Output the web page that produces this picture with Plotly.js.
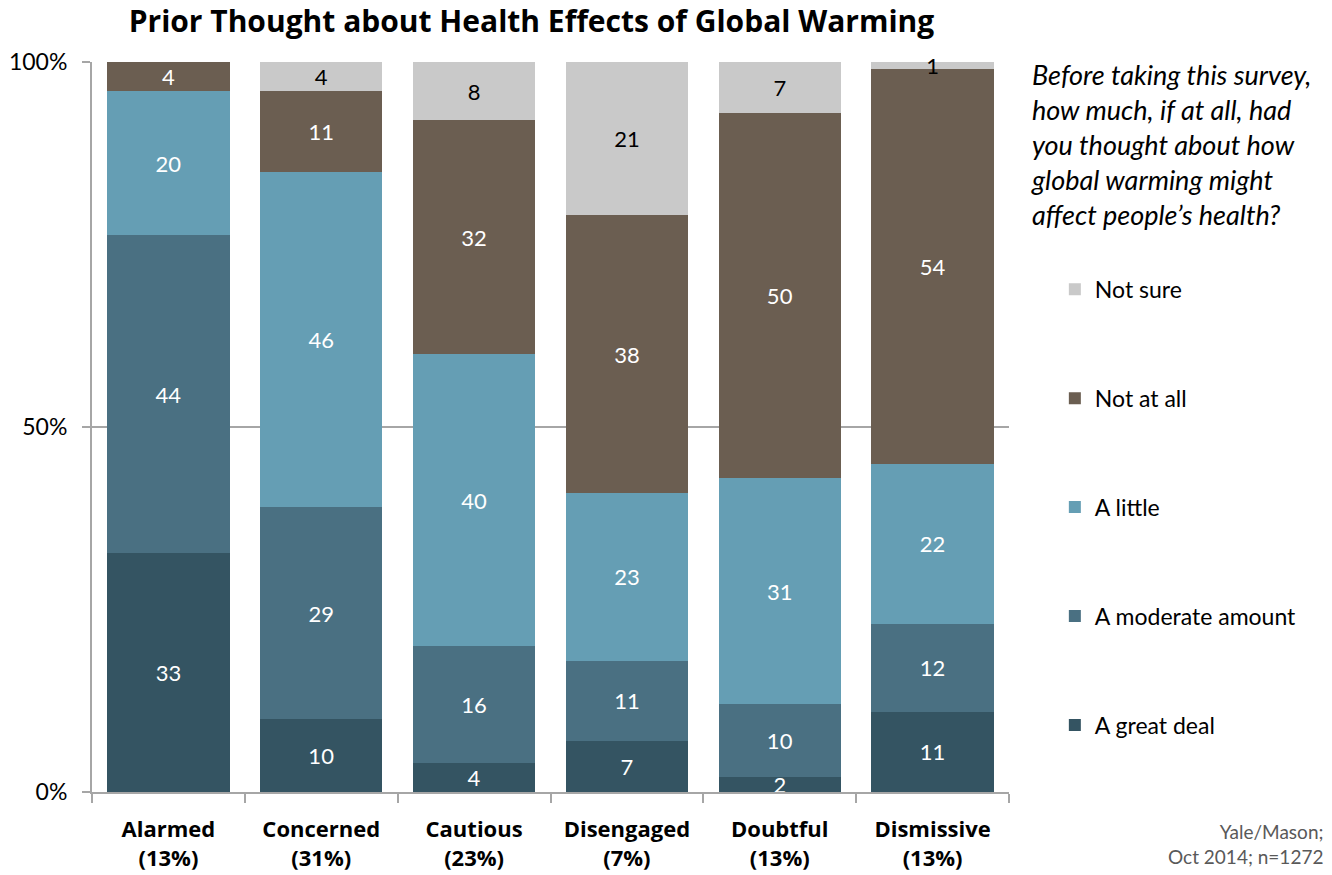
<!DOCTYPE html>
<html>
<head>
<meta charset="utf-8">
<script src="https://cdn.plot.ly/plotly-3.0.1.min.js"></script>
<style>html,body{margin:0;padding:0;background:#fff;}#chart{width:1332px;height:875px;}</style>
</head>
<body>
<div id="chart"></div>
<script>
var categories = ["Alarmed<br>(13%)", "Concerned<br>(31%)", "Cautious<br>(23%)", "Disengaged<br>(7%)", "Doubtful<br>(13%)", "Dismissive<br>(13%)"];
var greatDeal   = [33, 10, 4, 7, 2, 11];
var moderate    = [44, 29, 16, 11, 10, 12];
var aLittle     = [20, 46, 40, 23, 31, 22];
var notAtAll    = [4, 11, 32, 38, 50, 54];
var notSure     = [0, 4, 8, 21, 7, 1];
var seriesNames = ["A great deal", "A moderate amount", "A little", "Not at all", "Not sure"];
var yTicks = [0, 50, 100];

var colors = ["#345462", "#4a7082", "#659eb4", "#6b5e51", "#c9c9c9"];
var textColors = ["#ffffff", "#ffffff", "#ffffff", "#ffffff", "#000000"];
var seriesVals = [greatDeal, moderate, aLittle, notAtAll, notSure];
var tickText = categories.map(function(c){ return "<b>" + c + "</b>"; });

var traces = seriesVals.map(function(vals, i){
  return {
    type: "bar",
    name: seriesNames[i],
    x: categories,
    y: vals,
    text: vals.map(function(v){ return v > 0 ? String(v) : ""; }),
    textposition: "inside",
    insidetextanchor: "middle",
    textangle: 0,
    textfont: {family: "Lato, sans-serif", size: 22, color: textColors[i]},
    marker: {color: colors[i], line: {width: 0}},
    legendgroup: "g" + i,
    legendrank: 100 - i,
    hoverinfo: "skip",
    cliponaxis: false
  };
});

var layout = {
  width: 1332, height: 875,
  margin: {l: 92, r: 323, t: 62, b: 83},
  paper_bgcolor: "#ffffff", plot_bgcolor: "#ffffff",
  barmode: "stack",
  barnorm: "percent",
  bargap: 0.2,
  showlegend: true,
  uniformtext: {mode: "show", minsize: 22},
  font: {family: "Lato, sans-serif", color: "#000000"},
  title: {
    text: "<b>Prior Thought about Health Effects of Global Warming</b>",
    font: {family: "'Open Sans', sans-serif", size: 30, color: "#000000"},
    x: 0.399, xanchor: "center", y: 0.975, yanchor: "middle"
  },
  xaxis: {
    type: "category",
    tickvals: categories, ticktext: tickText,
    tickson: "boundaries",
    ticks: "outside", ticklen: 9, tickcolor: "#a6a6a6", tickwidth: 2,
    showline: true, linecolor: "#a6a6a6", linewidth: 2,
    showgrid: false, zeroline: false,
    tickfont: {family: "'Open Sans', sans-serif", size: 22, color: "#000000"},
    ticklabelstandoff: 17,
    fixedrange: true
  },
  yaxis: {
    range: [0, 100],
    tickvals: yTicks, ticktext: yTicks.map(function(v){ return v + "%"; }),
    ticks: "outside", ticklen: 8, tickcolor: "#a6a6a6", tickwidth: 2,
    showline: true, linecolor: "#a6a6a6", linewidth: 2,
    showgrid: true, gridcolor: "#a6a6a6", gridwidth: 2,
    zeroline: false,
    tickfont: {family: "Lato, sans-serif", size: 23, color: "#000000"},
    ticklabelstandoff: 10,
    fixedrange: true
  },
  legend: {
    x: 1.05, xanchor: "left", y: 0.718, yanchor: "top",
    font: {family: "Lato, sans-serif", size: 23, color: "#000000"},
    tracegroupgap: 76,
    itemwidth: 30,
    bgcolor: "rgba(0,0,0,0)"
  },
  annotations: [
    {
      xref: "paper", yref: "paper", x: 1.022, y: 1.008, xanchor: "left", yanchor: "top",
      align: "left", showarrow: false,
      text: "<i>Before taking this survey,<br>how much, if at all, had<br>you thought about how<br>global warming might<br>affect people’s health?</i>",
      font: {family: "Lato, sans-serif", size: 27, color: "#000000"}
    },
    {
      xref: "paper", yref: "paper", x: 1.345, y: -0.035, xanchor: "right", yanchor: "top",
      align: "right", showarrow: false,
      text: "Yale/Mason;<br>Oct 2014; n=1272",
      font: {family: "Lato, sans-serif", size: 19, color: "#595959"}
    }
  ]
};

Plotly.newPlot("chart", traces, layout, {displayModeBar: false, staticPlot: true});
</script>
</body>
</html>
